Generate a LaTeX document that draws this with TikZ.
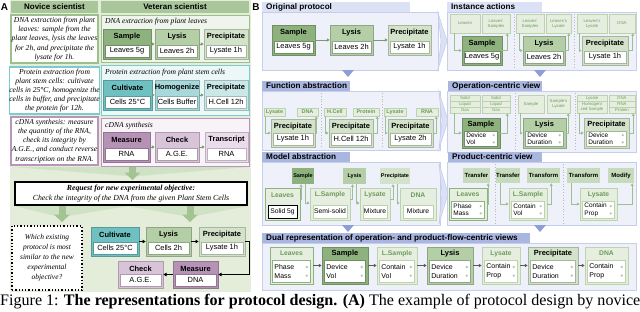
\documentclass[tikz,border=0pt]{standalone}
\usepackage{fontspec}
\usepackage{graphicx}
\setmainfont{Liberation Serif}
\setsansfont{Liberation Sans}
\usetikzlibrary{arrows.meta,calc}
\definecolor{Abg}{HTML}{E3EDDA}
\definecolor{Ahead}{HTML}{A9C69B}
\definecolor{Aarr}{HTML}{A3C393}
\definecolor{Afun}{HTML}{D0E2C5}
\definecolor{gD}{HTML}{8DB27D}
\definecolor{gM}{HTML}{B4CEA6}
\definecolor{gL}{HTML}{D2E3C9}
\definecolor{gB}{HTML}{9DBF8C}
\definecolor{tD}{HTML}{6EC0C1}
\definecolor{tM}{HTML}{A7D9DA}
\definecolor{tL}{HTML}{CAE8E8}
\definecolor{tB}{HTML}{7ECBCB}
\definecolor{pD}{HTML}{B792B7}
\definecolor{pM}{HTML}{D9C3D9}
\definecolor{pL}{HTML}{EADCEA}
\definecolor{pB}{HTML}{B995B9}
\definecolor{Bpanel}{HTML}{EEF1FA}
\definecolor{Bline}{HTML}{C6CEEB}
\definecolor{Btab}{HTML}{A9B6E0}
\definecolor{BtabL}{HTML}{DCE2F5}
\definecolor{Btri}{HTML}{8D9FD6}
\definecolor{prodF}{HTML}{E6EFDF}
\definecolor{prodT}{HTML}{6E9A5C}
\definecolor{prodB}{HTML}{BCD3AE}
\definecolor{conn}{HTML}{9EBF8F}
\definecolor{dotc}{HTML}{B5C9AA}
\newcommand\fsz[2]{\fontsize{#1}{#2}\selectfont}
\def\valfont{\sffamily\fsz{6.5}{7.5}}
\def\dotsp{3.6}
\tikzset{
 cardbox/.style={line width=0.6bp},
 valbox/.style={fill=white, line width=0.5bp, font=\sffamily\fsz{7.5}{9}},
 hdr/.style={font=\sffamily\bfseries\fsz{7.5}{9}, inner sep=0},
 phdr/.style={font=\sffamily\bfseries\fsz{6.8}{8}, text=prodT, inner sep=0},
 vtext/.style={anchor=west, align=left, inner sep=0, font=\valfont},
 ilabel/.style={fill=prodF, draw=prodB, line width=0.5bp, text=prodT, font=\sffamily\fsz{4.3}{5}, align=center},
 flabel/.style={fill=prodF, draw=prodB, line width=0.5bp, text=prodT, font=\sffamily\bfseries\fsz{5.5}{6}},
 mlab/.style={font=\sffamily\bfseries\fsz{5.5}{6}},
 plab/.style={fill=gL!60!gM, font=\sffamily\bfseries\fsz{6}{7}},
 novbox/.style={fill=white, line width=1.2bp, align=center, font=\itshape\fsz{7.6}{9.2}},
 vetbox/.style={line width=1bp},
 vtitle/.style={anchor=west, font=\itshape\fsz{7.6}{9}, inner sep=0},
 reqbox/.style={fill=white, draw=black, line width=1.5bp, align=center, font=\itshape\fsz{7.8}{9.5}},
 qbox/.style={fill=white, draw=black, dotted, line width=1.3bp, align=center, font=\itshape\fsz{7.5}{10}},
 panel/.style={fill=Bpanel, draw=Bline, line width=0.8bp},
 sectitle/.style={anchor=west, font=\sffamily\bfseries\fsz{8.2}{9}, inner sep=0},
 dsep/.style={draw=gray!55, dotted, line width=0.8bp},
 carr/.style={draw=conn, line width=0.7bp, -{Triangle[length=2.6bp,width=2.8bp]}},
 garr/.style={draw=conn!80!black, line width=0.8bp, -{Triangle[length=2.8bp,width=3bp]}},
 darr/.style={draw=gray!70!black, line width=0.8bp, -{Triangle[length=2.8bp,width=3bp]}},
 blk/.style={draw=black, line width=1bp, -{Triangle[length=3.2bp,width=3.4bp]}},
}
% rectangle node from corners
\newcommand\rn[7][]{\node[inner sep=0pt, #1, minimum width={((#5)-(#3))*1bp}, minimum height={((#6)-(#4))*1bp}] (#2) at ({((#3)+(#5))/2},{((#4)+(#6))/2}) {#7};}
% operation card, one value
\newcommand\opcard[8]{%
 \rn[cardbox, fill=#6, draw=#6!80!black]{#1}{#2}{#3}{#4}{#5}{}
 \node[hdr] (#1h) at ({((#2)+(#4))/2},{(#3)+7.5}) {#7};
 \rn[valbox, draw=#6!80!black]{#1v}{(#2)+2}{(#5)-14}{(#4)-2}{(#5)-2}{#8}}
% operation card, two lines with dots
\newcommand\opcardB[9]{%
 \rn[cardbox, fill=#6, draw=#6!80!black]{#1}{#2}{#3}{#4}{#5}{}
 \node[hdr] (#1h) at ({((#2)+(#4))/2},{(#3)+6.5}) {#7};
 \rn[valbox, draw=#6!80!black]{#1v}{(#2)+2.5}{(#3)+13.5}{(#4)-2.5}{(#5)-2}{}
 \node[vtext] (#1t) at ([xshift=2bp]#1v.west) {#8\\#9};
 \fill[dotc] ([xshift=-4bp,yshift=\dotsp bp]#1v.east) circle (1.3bp);
 \fill[dotc] ([xshift=-4bp,yshift=-\dotsp bp]#1v.east) circle (1.3bp);}
% product card, one value
\newcommand\prodA[9]{%
 \rn[cardbox, fill=prodF, draw=#6]{#1}{#2}{#3}{#4}{#5}{}
 \node[phdr] (#1h) at ({((#2)+(#4))/2},{(#3)+7}) {#7};
 \rn[valbox, draw=#9, font=\sffamily\fsz{6.8}{8}]{#1v}{(#2)+3}{(#5)-15}{(#4)-3}{(#5)-2}{#8}}
% product card, two lines with dots
\newcommand\prodB[9]{%
 \rn[cardbox, fill=prodF, draw=#6]{#1}{#2}{#3}{#4}{#5}{}
 \node[phdr] (#1h) at ({((#2)+(#4))/2},{(#3)+6.5}) {#7};
 \rn[valbox, draw=#6]{#1v}{(#2)+2.5}{(#3)+13.5}{(#4)-2.5}{(#5)-2}{}
 \node[vtext] (#1t) at ([xshift=2bp]#1v.west) {#8\\#9};
 \fill[dotc] ([xshift=-4bp,yshift=\dotsp bp]#1v.east) circle (1.3bp);
 \fill[dotc] ([xshift=-4bp,yshift=-\dotsp bp]#1v.east) circle (1.3bp);}
% stacked labels
\newcommand\stk[7]{%
 \rn[ilabel]{#1a}{#2}{#3}{#4}{(#3)+6}{#5}
 \rn[ilabel]{#1b}{#2}{(#3)+6}{#4}{(#3)+12}{#6}
 \rn[ilabel]{#1}{#2}{(#3)+12}{#4}{(#3)+18}{#7}}
\newcommand\chev[3]{\filldraw[fill=BtabL, draw=Bline, line width=0.6bp] (#1,#2) -- ({#1+9},{(#2+#3)/2}) -- (#1,#3) -- ({#1+3},{(#2+#3)/2}) -- cycle;}
\newcommand\dtri[2]{\fill[Btri] ({#1-6},#2) -- ({#1+6},#2) -- (#1,{#2+7}) -- cycle;}
% arrow head: x, top y, tip y
\newcommand\garrow[3]{\fill[Aarr] ({#1-3.5},#2) rectangle ({#1+3.5},{#3-7}); \fill[Aarr] ({#1-8},{#3-7.5}) -- ({#1+8},{#3-7.5}) -- (#1,#3) -- cycle;}

\begin{document}
\begin{tikzpicture}[x=1bp,y=-1bp]
\useasboundingbox (0,0) rectangle (640,311);
%================ Panel A
\fill[Abg] (10,0) rectangle (251,292);
\node[font=\sffamily\bfseries\fsz{10}{12}, inner sep=0] (labA) at (4.5,7) {A};
\rn[fill=Ahead, font=\sffamily\bfseries\fsz{8}{9}]{hN}{11}{1}{98}{13}{Novice scientist}
\rn[fill=Ahead, font=\sffamily\bfseries\fsz{8}{9}]{hV}{101}{1}{249}{13}{Veteran scientist}
\rn[novbox, draw=gB]{nb1}{11}{15}{98}{63}{DNA extraction from plant\\leaves: sample from the\\plant leaves, lysis the leaves\\for 2h, and precipitate the\\lysate for 1h.}
\rn[novbox, draw=tB]{nb2}{11}{67}{98}{114}{Protein extraction from\\plant stem cells: cultivate\\cells in 25°C, homogenize the\\cells in buffer, and precipitate\\the protein for 12h.}
\rn[novbox, draw=pB]{nb3}{11}{117}{98}{165}{cDNA synthesis: measure\\the quantity of the RNA,\\check its integrity by\\A.G.E., and conduct reverse\\transcription on the RNA.}
% veteran
\rn[vetbox, draw=gB, fill=gL!35]{vb1}{101}{15}{249}{62}{}
\node[vtitle] (vb1t) at (105,22) {DNA extraction from plant leaves};
\opcard{a1}{103}{29}{151}{59}{gD}{Sample}{Leaves 5g}
\opcard{a2}{155}{29}{199}{59}{gM}{Lysis}{Leaves 2h}
\opcard{a3}{204}{29}{248}{59}{gL}{Precipitate}{Lysate 1h}
\draw[garr] (a1) -- (a2); \draw[garr] (a2) -- (a3);
\rn[vetbox, draw=tB, fill=tL!35]{vb2}{101}{65}{249}{115}{}
\node[vtitle] (vb2t) at (105,73) {Protein extraction from plant stem cells};
\opcard{b1}{103}{80}{152}{110}{tD}{Cultivate}{Cells 25°C}
\opcard{b2}{155}{80}{199}{110}{tM}{Homogenize}{Cells Buffer}
\opcard{b3}{204}{80}{248}{110}{tL}{Precipitate}{H.Cell 12h}
\draw[garr] (b1) -- (b2); \draw[garr] (b2) -- (b3);
\rn[vetbox, draw=pB, fill=pL!35]{vb3}{101}{118}{249}{166}{}
\node[vtitle] (vb3t) at (105,126) {cDNA synthesis};
\opcard{c1}{103}{132}{150}{162}{pD}{Measure}{RNA}
\opcard{c2}{155}{132}{199}{162}{pM}{Check}{A.G.E.}
\opcard{c3}{205}{132}{248}{162}{pL}{Transcript}{RNA}
\draw[garr] (c1) -- (c2); \draw[garr] (c2) -- (c3);
% funnels
\fill[Afun] (14,167) -- (248,167) -- (138,176) -- (127,176) -- cycle;
\garrow{132.5}{167}{180}
\fill[Afun] (14,206) -- (128,206) -- (68,216) -- (56,216) -- cycle;
\fill[Afun] (128,206) -- (248,206) -- (196,216) -- (184,216) -- cycle;
\garrow{62}{206}{222}
\garrow{190}{206}{222}
\rn[reqbox]{req}{15}{182}{247}{205}{{\bfseries Request for new experimental objective:}\\Check the integrity of the DNA from the given Plant Stem Cells}
\rn[qbox]{q}{12}{226}{82}{290}{Which existing\\protocol is most\\similar to the new\\experimental\\objective?}
\opcard{r1}{91}{227}{139}{256}{tD}{Cultivate}{Cells 25°C}
\opcard{r2}{146}{227}{191}{256}{gM}{Lysis}{Cells 2h}
\opcard{r3}{199}{227}{245}{256}{gL}{Precipitate}{Lysate 1h}
\opcard{r4}{118}{261}{163}{288}{pM}{Check}{A.G.E.}
\opcard{r5}{173}{261}{218}{288}{pD}{Measure}{DNA}
\draw[blk] (r1) -- (r2);
\draw[blk] (r2) -- (r3);
\draw[blk] (r3.east) -- ++(4,0) |- (r5.east);
\draw[blk] (r5) -- (r4);
%================ Panel B
\node[font=\sffamily\bfseries\fsz{10}{12}, inner sep=0] (labB) at (256,7) {B};
% Original protocol
\rn[fill=BtabL]{t1}{262}{2}{410}{12}{}
\node[sectitle] (t1t) at (266,7) {Original protocol};
\rn[panel]{p1}{262}{12}{438}{70}{}
\chev{438}{13}{69}
\opcard{o1}{272}{25}{315}{55}{gD}{Sample}{Leaves 5g}
\opcard{o2}{330}{25}{373}{55}{gM}{Lysis}{Leaves 2h}
\opcard{o3}{388}{25}{431}{55}{gL}{Precipitate}{Lysate 1h}
\draw[garr] (o1) -- (o2); \draw[garr] (o2) -- (o3);
\dtri{348}{70}
% Instance actions
\rn[fill=BtabL]{t2}{447}{2}{542}{12}{}
\node[sectitle] (t2t) at (451,7) {Instance actions};
\rn[panel]{p2}{447}{12}{636}{70}{}
\draw[dsep] (514,14) -- (514,68); \draw[dsep] (574,14) -- (574,68);
\rn[ilabel]{ia1}{450}{14}{480}{33}{Leaves}
\rn[ilabel]{ib1}{482}{14}{510}{33}{Leaves'\\Samples}
\opcard{ic1}{462}{36}{502}{65}{gD}{Sample}{Leaves 5g}
\draw[carr] ([xshift=5bp]ia1.south west) |- (ic1.west);
\draw[carr] (ic1.east) -| ([xshift=-3bp]ib1.south east);
\rn[ilabel]{ia2}{516}{14}{544}{33}{Leaves'\\Samples}
\rn[ilabel]{ib2}{546}{14}{571}{33}{Leaves's\\Lysate}
\opcard{ic2}{523}{36}{565}{65}{gM}{Lysis}{Leaves 2h}
\draw[carr] ([xshift=4bp]ia2.south west) |- (ic2.west);
\draw[carr] (ic2.east) -| ([xshift=-2.5bp]ib2.south east);
\rn[ilabel]{ia3}{577}{14}{607}{33}{Leaves's\\Lysate}
\rn[ilabel]{ib3}{609}{14}{635}{33}{DNA}
\opcard{ic3}{582}{36}{628}{65}{gL}{Precipitate}{Lysate 1h}
\draw[carr] ([xshift=3bp]ia3.south west) |- (ic3.west);
\draw[carr] (ic3.east) -| ([xshift=-2.5bp]ib3.south east);
\dtri{540}{70}
% Function abstraction
\rn[fill=Btab]{t3}{262}{81}{350}{91}{}
\node[sectitle] (t3t) at (266,86) {Function abstraction};
\rn[panel]{p3}{262}{91}{440}{150}{}
\chev{439}{92}{149}
\draw[dsep] (321,93) -- (321,148); \draw[dsep] (382,93) -- (382,148);
\rn[flabel]{fa1}{264}{108}{285}{116}{Lysate}
\rn[flabel]{fb1}{297}{108}{318}{116}{DNA}
\opcard{fc1}{271}{119}{315}{147}{gL}{Precipitate}{Lysate 1h}
\draw[carr] ([xshift=2bp]fa1.south west) |- (fc1.west);
\draw[carr] (fc1.east) -| ([xshift=-2bp]fb1.south east);
\rn[flabel]{fa2}{324}{108}{346}{116}{H.Cell}
\rn[flabel]{fb2}{353}{108}{379}{116}{Protein}
\opcard{fc2}{329}{119}{373}{147}{gL}{Precipitate}{H.Cell 12h}
\draw[carr] ([xshift=2bp]fa2.south west) |- (fc2.west);
\draw[carr] (fc2.east) -| ([xshift=-2bp]fb2.south east);
\rn[flabel]{fa3}{384}{108}{406}{116}{Lysate}
\rn[flabel]{fb3}{416}{108}{438}{116}{RNA}
\opcard{fc3}{388}{119}{433}{147}{gL}{Precipitate}{Lysate 2h}
\draw[carr] ([xshift=2bp]fa3.south west) |- (fc3.west);
\draw[carr] (fc3.east) -| ([xshift=-2bp]fb3.south east);
% Operation-centric view
\rn[fill=Btab]{t4}{448}{81}{542}{91}{}
\node[sectitle] (t4t) at (452,86) {Operation-centric view};
\rn[panel]{p4}{447}{91}{636}{152}{}
\draw[dsep] (515,93) -- (515,150); \draw[dsep] (575,93) -- (575,150);
\stk{oa1}{450}{95}{480}{Solid}{Liquid}{Gas}
\stk{ob1}{482}{95}{510}{Solid}{Liquid}{Gas}
\opcardB{oc1}{462}{118}{500}{148}{gD}{Sample}{Device}{Vol}
\draw[carr] ([xshift=5bp]oa1.south west) |- (oc1.west);
\draw[carr] (oc1.east) -| ([xshift=-3bp]ob1.south east);
\rn[ilabel]{oa2}{518}{95}{544}{113}{Sample}
\rn[ilabel]{ob2}{547}{95}{570}{113}{Sample's\\Lysate}
\opcardB{oc2}{523}{118}{566}{148}{gM}{Lysis}{Device}{Duration}
\draw[carr] ([xshift=3bp]oa2.south west) |- (oc2.west);
\draw[carr] (oc2.east) -| ([xshift=-2bp]ob2.south east);
\rn[ilabel]{oa3a}{577}{95}{607}{101}{Lysate}
\rn[ilabel]{oa3}{577}{101}{607}{113}{Homogeni\\zed Sample}
\stk{ob3}{609}{95}{635}{DNA}{RNA}{Protein}
\opcardB{oc3}{584}{118}{629}{148}{gL}{Precipitate}{Device}{Duration}
\draw[carr] ([xshift=3bp]oa3.south west) |- (oc3.west);
\draw[carr] (oc3.east) -| ([xshift=-2bp]ob3.south east);
% Model abstraction
\rn[fill=Btab]{t5}{262}{152}{350}{162}{}
\node[sectitle] (t5t) at (266,157) {Model abstraction};
\rn[panel]{p5}{262}{162}{440}{225}{}
\chev{439}{163}{224}
\rn[mlab, fill=gD]{ma}{292}{168}{314}{184}{Sample}
\rn[mlab, fill=gM]{mb}{343}{168}{366}{184}{Lysis}
\rn[mlab, fill=gL]{mc}{380}{168}{410}{184}{Precipitate}
\prodA{m1}{265}{188}{300}{220}{gD}{Leaves}{Solid 5g}{black}
\prodA{m2}{310}{188}{350}{220}{prodB}{L.Sample}{Semi-solid}{prodB}
\prodA{m3}{360}{188}{390}{220}{prodB}{Lysate}{Mixture}{prodB}
\prodA{m4}{400}{188}{436}{220}{prodB}{DNA}{Mixture}{prodB}
\draw[carr] ([yshift=5bp]m1.east) -| ([xshift=-2bp]ma.south);
\draw[carr] ([xshift=2bp]ma.south) |- ([yshift=1bp]m2.west);
\draw[carr] ([yshift=5bp]m2.east) -| ([xshift=-2bp]mb.south);
\draw[carr] ([xshift=2bp]mb.south) |- ([yshift=1bp]m3.west);
\draw[carr] ([yshift=5bp]m3.east) -| ([xshift=-2bp]mc.south);
\draw[carr] ([xshift=2bp]mc.south) |- ([yshift=1bp]m4.west);
\dtri{348}{225}
% Product-centric view
\rn[fill=Btab]{t6}{448}{152}{542}{162}{}
\node[sectitle] (t6t) at (452,157) {Product-centric view};
\rn[panel]{p6}{447}{162}{636}{225}{}
\draw[dsep] (495,164) -- (495,223); \draw[dsep] (563,164) -- (563,223);
\rn[plab]{pa1}{463}{168}{490}{183}{Transfer}
\prodB{pc1}{449}{188}{487}{220}{gD}{Leaves}{Phase}{Mass}
\draw[carr] (pc1.east) -| ([xshift=-2bp]pa1.south east);
\rn[plab]{pa2}{497}{168}{519}{183}{Transfer}
\rn[plab]{pb2}{527}{168}{560}{183}{Transform}
\prodB{pc2}{509}{188}{547}{220}{prodB}{L.Sample}{Contain}{Vol}
\draw[carr] ([xshift=4bp]pa2.south west) |- (pc2.west);
\draw[carr] (pc2.east) -| ([xshift=-9bp]pb2.south east);
\rn[plab]{pa3}{567}{168}{600}{183}{Transform}
\rn[plab]{pb3}{608}{168}{634}{183}{Modify}
\prodB{pc3}{580}{188}{617}{220}{prodB}{Lysate}{Contain}{Prop}
\draw[carr] ([xshift=5bp]pa3.south west) |- (pc3.west);
\draw[carr] (pc3.east) -| ([xshift=-2bp]pb3.south east);
\dtri{540}{225}
% Dual representation
\rn[fill=Btab]{t7}{262}{233}{530}{243}{}
\node[sectitle] (t7t) at (266,238) {Dual representation of operation- and product-flow-centric views};
\rn[panel]{p7}{262}{243}{636}{290}{}
\def\valfont{\sffamily\fsz{7}{9}}
\def\dotsp{4.3}
\prodB{d1}{270}{247}{313}{284}{gD}{Leaves}{Phase}{Mass}
\opcardB{d2}{322}{247}{368}{284}{gD}{Sample}{Device}{Vol}
\prodB{d3}{377}{247}{417}{284}{prodB}{L.Sample}{Contain}{Vol}
\opcardB{d4}{427}{247}{473}{284}{gM}{Lysis}{Device}{Duration}
\prodB{d5}{482}{247}{520}{284}{prodB}{Lysate}{Contain}{Prop}
\opcardB{d6}{528}{247}{578}{284}{gL}{Precipitate}{Device}{Duration}
\prodB{d7}{585}{247}{628}{284}{prodB}{DNA}{Contain}{Prop}
\draw[darr] (d1) -- (d2); \draw[darr] (d2) -- (d3); \draw[darr] (d3) -- (d4);
\draw[darr] (d4) -- (d5); \draw[darr] (d5) -- (d6); \draw[darr] (d6) -- (d7);
%================ Caption
\node[anchor=base west, inner sep=0] (cap) at (0,305.5) {\resizebox{640bp}{!}{\fsz{13.5}{15}Figure 1: \textbf{The representations for protocol design. (A)} The example of protocol design by novice}};
\end{tikzpicture}
\end{document}
